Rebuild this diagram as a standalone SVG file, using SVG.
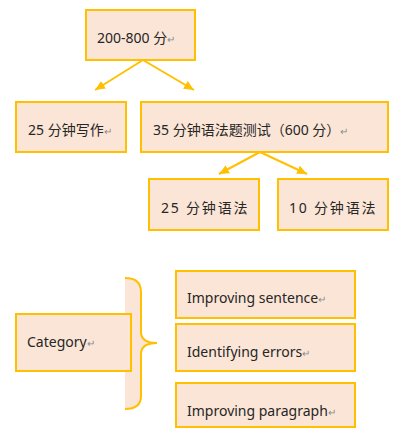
<svg xmlns="http://www.w3.org/2000/svg" width="402" height="440" viewBox="0 0 402 440">
<style>
.box{fill:#FBE5D6;stroke:#FFC000;stroke-width:2}
.t{font-family:"Noto Sans","Noto Sans CJK SC",sans-serif;font-size:14px;fill:#262626}
.r{font-size:10px;fill:#8c8c8c}
.conn{stroke:#FFC000;stroke-width:2;fill:none}
</style>
<defs>
<marker id="ah" markerUnits="userSpaceOnUse" markerWidth="12" markerHeight="12" viewBox="0 0 12 12" refX="10" refY="6" orient="auto">
<path d="M0,1.5 L10,6 L0,10.5 Z" fill="#FFC000"/>
</marker>
</defs>
<rect width="402" height="440" fill="#ffffff"/>
<g id="connectors">
<line class="conn" x1="143" y1="60" x2="95" y2="90" marker-end="url(#ah)"/>
<line class="conn" x1="143" y1="60" x2="194" y2="90" marker-end="url(#ah)"/>
<line class="conn" x1="260" y1="152" x2="219" y2="174" marker-end="url(#ah)"/>
<line class="conn" x1="260" y1="152" x2="307" y2="174" marker-end="url(#ah)"/>
</g>
<g id="n-root">
<rect class="box" x="86" y="10" width="109" height="50"/>
<text class="t" x="97" y="43">200-800 分<tspan class="r">↵</tspan></text>
</g>
<g id="n-writing">
<rect class="box" x="16" y="102" width="110" height="50"/>
<text class="t" x="28" y="135">25 分钟写作<tspan class="r">↵</tspan></text>
</g>
<g id="n-grammar">
<rect class="box" x="141" y="102" width="247" height="50"/>
<text class="t" x="153" y="135">35 分钟语法题测试（600 分）<tspan class="r">↵</tspan></text>
</g>
<g id="n-g25">
<rect class="box" x="149" y="179" width="110" height="51"/>
<text class="t" x="161" y="213" letter-spacing="1.8">25  分钟语法</text>
</g>
<g id="n-g10">
<rect class="box" x="278" y="179" width="110" height="51"/>
<text class="t" x="289" y="213" letter-spacing="1.8">10  分钟语法</text>
</g>
<g id="brace">
<path d="M125,278 Q141,278 141,292 L141,332 Q141,343 157,343 Q141,343 141,354 L141,396 Q141,409 125,409 Z" fill="#FBE5D6" stroke="none"/>
<path d="M125,278 Q141,278 141,292 L141,332 Q141,343 157,343 Q141,343 141,354 L141,396 Q141,409 125,409" class="conn"/>
</g>
<g id="n-category">
<rect class="box" x="16" y="314" width="115" height="57"/>
<text class="t" x="27" y="347">Category<tspan class="r">↵</tspan></text>
</g>
<g id="n-sentence">
<rect class="box" x="176" y="271" width="179" height="47"/>
<text class="t" x="187" y="303">Improving sentence<tspan class="r">↵</tspan></text>
</g>
<g id="n-errors">
<rect class="box" x="176" y="324" width="179" height="47"/>
<text class="t" x="187" y="357">Identifying errors<tspan class="r">↵</tspan></text>
</g>
<g id="n-paragraph">
<rect class="box" x="176" y="383" width="179" height="44"/>
<text class="t" x="187" y="416">Improving paragraph<tspan class="r">↵</tspan></text>
</g>
</svg>
